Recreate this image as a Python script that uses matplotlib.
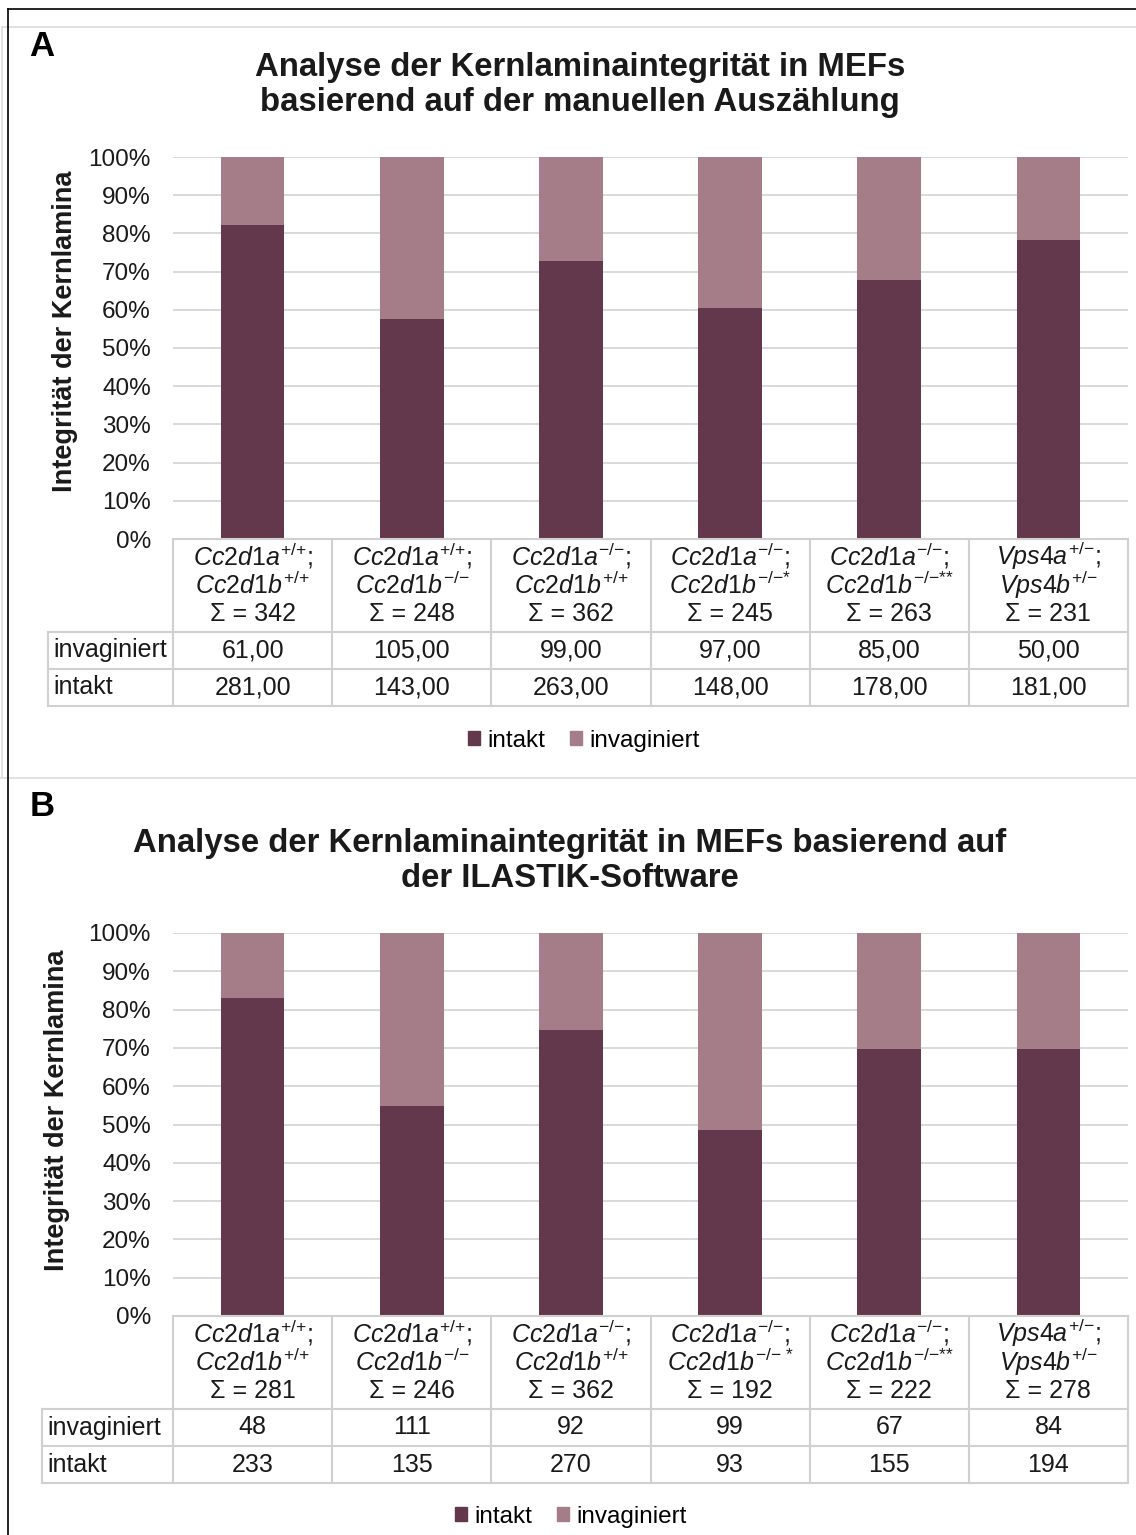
import numpy as np
import matplotlib
matplotlib.use('Agg')
import matplotlib.pyplot as plt
from matplotlib.patches import Patch
from matplotlib.lines import Line2D
from matplotlib.transforms import blended_transform_factory
from matplotlib.ticker import PercentFormatter

plt.rcParams['font.family'] = ['Liberation Sans', 'DejaVu Sans']
plt.rcParams['mathtext.fontset'] = 'custom'
plt.rcParams['mathtext.rm'] = 'Liberation Sans'
plt.rcParams['mathtext.it'] = 'Liberation Sans:italic'
plt.rcParams['mathtext.bf'] = 'Liberation Sans:bold'

# ---- data ----
gene1 = ['Cc2d1a', 'Cc2d1a', 'Cc2d1a', 'Cc2d1a', 'Cc2d1a', 'Vps4a']
allele1 = ['+/+', '+/+', '-/-', '-/-', '-/-', '+/-']
gene2 = ['Cc2d1b', 'Cc2d1b', 'Cc2d1b', 'Cc2d1b', 'Cc2d1b', 'Vps4b']
allele2_A = ['+/+', '-/-', '+/+', '-/-*', '-/-**', '+/-']
allele2_B = ['+/+', '-/-', '+/+', '-/- *', '-/-**', '+/-']

invag_A = [61, 105, 99, 97, 85, 50]
intakt_A = [281, 143, 263, 148, 178, 181]
invag_B = [48, 111, 92, 99, 67, 84]
intakt_B = [233, 135, 270, 93, 155, 194]

title_A = 'Analyse der Kernlaminaintegrität in MEFs\nbasierend auf der manuellen Auszählung'
title_B = 'Analyse der Kernlaminaintegrität in MEFs basierend auf\nder ILASTIK-Software'
ylabel = 'Integrität der Kernlamina'
row_names = ['invaginiert', 'intakt']
series_names = ['intakt', 'invaginiert']

DARK = '#64384C'
LIGHT = '#A57D88'
GRID = '#D9D9D9'
TXT = '#1a1a1a'

W, H = 1136, 1535
AX_L, AX_R = 173, 1128


def fx(x):
    return x / W


def fy(y):
    return 1 - y / H


def sup(s):
    return ''.join(r'\ ' if c == ' ' else '{%s}' % c for c in s)


def geno(gene, allele, semi=True):
    end = r'\mathit{;}' if semi else ''
    return r'$\mathit{%s}^{%s}%s$' % (gene, sup(allele), end)


def num(v, german):
    # panel A table uses German decimal comma
    return ('%.2f' % v).replace('.', ',') if german else '%d' % v


fig = plt.figure(figsize=(W / 100, H / 100), dpi=100)

# frames
fig.add_artist(Line2D([fx(2), fx(W)], [fy(27), fy(27)], color='#dddddd', lw=1.2))
fig.add_artist(Line2D([fx(2), fx(2)], [fy(27), fy(778)], color='#dddddd', lw=1.2))
fig.add_artist(Line2D([0, 1], [fy(778), fy(778)], color='#dddddd', lw=1.2))
fig.add_artist(Line2D([fx(8), 1], [fy(9), fy(9)], color='black', lw=1.2))
fig.add_artist(Line2D([fx(8), fx(8)], [fy(9), 0], color='black', lw=1.2))


def panel(letter, letter_y, title, title_x, title_y, ax_top, ax_bot, ylab_x, ylab_y,
          tab_left, invag, intakt, german, allele2, leg_x, leg_y):
    ax = fig.add_axes([fx(AX_L), fy(ax_bot), (AX_R - AX_L) / W, (ax_bot - ax_top) / H])
    inv = np.array(invag, dtype=float)
    itk = np.array(intakt, dtype=float)
    tot = inv + itk
    x = np.arange(len(inv))
    ax.bar(x, itk / tot, width=0.4, color=DARK, zorder=2)
    ax.bar(x, inv / tot, bottom=itk / tot, width=0.4, color=LIGHT, zorder=2)
    ax.set_xlim(-0.5, len(x) - 0.5)
    ax.set_ylim(0, 1)
    ax.set_yticks(np.arange(0, 1.01, 0.1))
    ax.yaxis.set_major_formatter(PercentFormatter(1, decimals=0))
    ax.tick_params(axis='y', length=0, pad=16, labelsize=17.5, labelcolor=TXT)
    ax.set_xticks([])
    ax.grid(axis='y', color=GRID, lw=1.4, zorder=0)
    for s in ax.spines.values():
        s.set_visible(False)

    # table below the axes
    tr = blended_transform_factory(ax.transData, ax.transAxes)
    h = ax_bot - ax_top
    cw = (AX_R - AX_L) / len(x)
    left = -0.5 - (AX_L - tab_left) / cw
    rows = [0, 93, 130, 167]
    lk = dict(color='#d0d0d0', lw=1.5, transform=tr, clip_on=False, zorder=3)
    ax.plot([-0.5, len(x) - 0.5], [0, 0], **lk)
    for r in rows[1:]:
        ax.plot([left, len(x) - 0.5], [-r / h, -r / h], **lk)
    for i in range(len(x) + 1):
        ax.plot([i - 0.5, i - 0.5], [0, -rows[-1] / h], **lk)
    ax.plot([left, left], [-rows[1] / h, -rows[-1] / h], **lk)

    tk = dict(transform=tr, ha='center', va='center', fontsize=18, color=TXT, clip_on=False)
    for i in x:
        ax.text(i, -17 / h, geno(gene1[i], allele1[i]), **tk)
        ax.text(i, -46 / h, geno(gene2[i], allele2[i], semi=False), **tk)
        ax.text(i, -75 / h, 'Σ = %d' % tot[i], **tk)
        ax.text(i, -111.5 / h, num(inv[i], german), **tk)
        ax.text(i, -148.5 / h, num(itk[i], german), **tk)
    for name, yy in zip(row_names, [111.5, 148.5]):
        ax.text(left + 5 / cw, -yy / h, name, transform=tr, ha='left', va='center',
                fontsize=18, color=TXT)

    fig.text(fx(42), fy(letter_y), letter, fontsize=25, fontweight='bold',
             ha='center', va='center')
    fig.text(fx(title_x), fy(title_y), title, fontsize=23.7, fontweight='bold',
             ha='center', va='center', linespacing=1.17, color=TXT)
    fig.text(fx(ylab_x), fy(ylab_y), ylabel, rotation=90, fontsize=19.5,
             fontweight='bold', ha='center', va='center', color=TXT)
    fig.legend(handles=[Patch(color=DARK, label=series_names[0]),
                        Patch(color=LIGHT, label=series_names[1])],
               loc='center', bbox_to_anchor=(fx(leg_x), fy(leg_y)), ncol=2,
               frameon=False, fontsize=17.5, handlelength=0.5, handleheight=0.5,
               handletextpad=0.3, columnspacing=1.0)


panel('A', 46, title_A, 580, 85, 157, 539, 65, 331, 48,
      invag_A, intakt_A, True, allele2_A, 584, 741)
panel('B', 807, title_B, 570, 861, 933, 1316, 57, 1110, 42,
      invag_B, intakt_B, False, allele2_B, 571, 1517)

fig.savefig('out.png', dpi=100, facecolor='white')
